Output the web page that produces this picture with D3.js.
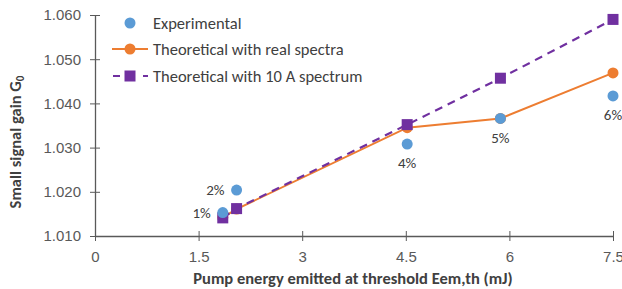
<!DOCTYPE html>
<html>
<head>
<meta charset="utf-8">
<script src="https://cdn.jsdelivr.net/npm/d3@7"></script>
<style>
  body { margin: 0; background: #fff; }
  svg { font-family: Carlito, Lato, "Open Sans", sans-serif; }
  .tick text { fill: #595959; font-size: 15px; }
  .axis path, .axis line { stroke: #595959; }
  .axisLabel { font-weight: bold; font-size: 16.5px; fill: #404040; }
  .legend text { font-size: 16.5px; fill: #404040; }
  .pct { font-size: 15px; fill: #404040; }
</style>
</head>
<body>
<div class="chart"></div>
<script>
// values
var energy = [1.85, 2.05, 4.52, 5.87, 7.5];
var experimental = [1.0153, 1.0204, 1.0308, 1.0366, 1.0417];
var realSpectra = [1.0142, 1.0161, 1.0345, 1.0366, 1.0469];
var tenASpectrum = [1.0141, 1.0162, 1.0352, 1.0457, 1.0590];
var pctLabels = ["1%", "2%", "4%", "5%", "6%"];
var xTicks = [0, 1.5, 3, 4.5, 6, 7.5];
var yTicks = [1.010, 1.020, 1.030, 1.040, 1.050, 1.060];

var blue = "#5B9BD5", orange = "#ED7D31", purple = "#7030A0";

var width = 622, height = 289;
var margin = { top: 15, right: 9, bottom: 53, left: 95 };

var x = d3.scaleLinear().domain([0, 7.5]).range([margin.left, width - margin.right]);
var y = d3.scaleLinear().domain([1.010, 1.060]).range([height - margin.bottom, margin.top]);

var svg = d3.select(".chart").append("svg")
  .attr("width", width)
  .attr("height", height);

// axes with ticks crossing the line
var xAxis = d3.axisBottom(x).tickValues(xTicks).tickSize(0).tickPadding(10)
  .tickFormat(function(d) { return d; });
var yAxis = d3.axisLeft(y).tickValues(yTicks).tickSize(0).tickPadding(14)
  .tickFormat(d3.format(".3f"));

var gx = svg.append("g").attr("class", "x axis")
  .attr("transform", "translate(0," + y(1.010) + ")")
  .call(xAxis);
gx.select(".domain").attr("stroke-width", 1.3);
gx.selectAll(".tick").append("line").attr("y1", -5).attr("y2", 5).attr("stroke", "#595959");
gx.selectAll(".tick text").attr("dy", "1.05em");

var gy = svg.append("g").attr("class", "y axis")
  .attr("transform", "translate(" + x(0) + ",0)")
  .call(yAxis);
gy.select(".domain").attr("stroke-width", 1.3);
gy.selectAll(".tick").append("line").attr("x1", -5).attr("x2", 5).attr("stroke", "#595959");

// axis titles
svg.append("text").attr("class", "axisLabel")
  .attr("x", 353).attr("y", 284)
  .attr("text-anchor", "middle")
  .text("Pump energy emitted at threshold Eem,th (mJ)");

var yt = svg.append("text").attr("class", "axisLabel")
  .attr("transform", "translate(21,142) rotate(-90)")
  .attr("text-anchor", "middle");
yt.append("tspan").text("Small signal gain G");
yt.append("tspan").attr("font-size", "11px").attr("dy", "3").text("0");

var realData = energy.map(function(d, i) { return { x: d, y: realSpectra[i] }; });
var tenAData = energy.map(function(d, i) { return { x: d, y: tenASpectrum[i] }; });
var expData = energy.map(function(d, i) { return { x: d, y: experimental[i], label: pctLabels[i] }; });

var line = d3.line()
  .x(function(d) { return x(d.x); })
  .y(function(d) { return y(d.y); });

// theoretical with real spectra
svg.append("path").datum(realData)
  .attr("d", line).attr("fill", "none")
  .attr("stroke", orange).attr("stroke-width", 2);
svg.selectAll(".real").data(realData).enter().append("circle")
  .attr("class", "real")
  .attr("cx", function(d) { return x(d.x); })
  .attr("cy", function(d) { return y(d.y); })
  .attr("r", 5.5).attr("fill", orange);

// theoretical with 10 A spectrum
svg.append("path").datum(tenAData)
  .attr("d", line).attr("fill", "none")
  .attr("stroke", purple).attr("stroke-width", 2.2)
  .attr("stroke-dasharray", "8,6");
svg.selectAll(".tenA").data(tenAData).enter().append("rect")
  .attr("class", "tenA")
  .attr("x", function(d) { return x(d.x) - 5.5; })
  .attr("y", function(d) { return y(d.y) - 5.5; })
  .attr("width", 11).attr("height", 11).attr("fill", purple);

// experimental
svg.selectAll(".exp").data(expData).enter().append("circle")
  .attr("class", "exp")
  .attr("cx", function(d) { return x(d.x); })
  .attr("cy", function(d) { return y(d.y); })
  .attr("r", 5.5).attr("fill", blue);

// percentage labels: first two to the left, others below
svg.selectAll(".pct").data(expData).enter().append("text")
  .attr("class", "pct")
  .attr("x", function(d, i) { return i < 2 ? x(d.x) - 12 : x(d.x); })
  .attr("y", function(d, i) { return i < 2 ? y(d.y) : y(d.y) + 19; })
  .attr("dy", "0.35em")
  .attr("text-anchor", function(d, i) { return i < 2 ? "end" : "middle"; })
  .text(function(d) { return d.label; });

// legend
var legend = svg.append("g").attr("class", "legend");
var lx = 130;
legend.append("circle").attr("cx", lx).attr("cy", 23).attr("r", 5.5).attr("fill", blue);
legend.append("line").attr("x1", lx - 18).attr("x2", lx + 18).attr("y1", 49).attr("y2", 49)
  .attr("stroke", orange).attr("stroke-width", 2);
legend.append("circle").attr("cx", lx).attr("cy", 49).attr("r", 5.5).attr("fill", orange);
legend.append("line").attr("x1", lx - 18).attr("x2", lx + 18).attr("y1", 76).attr("y2", 76)
  .attr("stroke", purple).attr("stroke-width", 2.2).attr("stroke-dasharray", "7,8").attr("stroke-dashoffset", -1);
legend.append("rect").attr("x", lx - 5.5).attr("y", 70.5).attr("width", 11).attr("height", 11).attr("fill", purple);

var names = ["Experimental", "Theoretical with real spectra", "Theoretical with 10 A spectrum"];
legend.selectAll("text").data(names).enter().append("text")
  .attr("x", 153)
  .attr("y", function(d, i) { return [23, 49, 76][i]; })
  .attr("dy", "0.35em")
  .text(function(d) { return d; });
</script>
</body>
</html>
